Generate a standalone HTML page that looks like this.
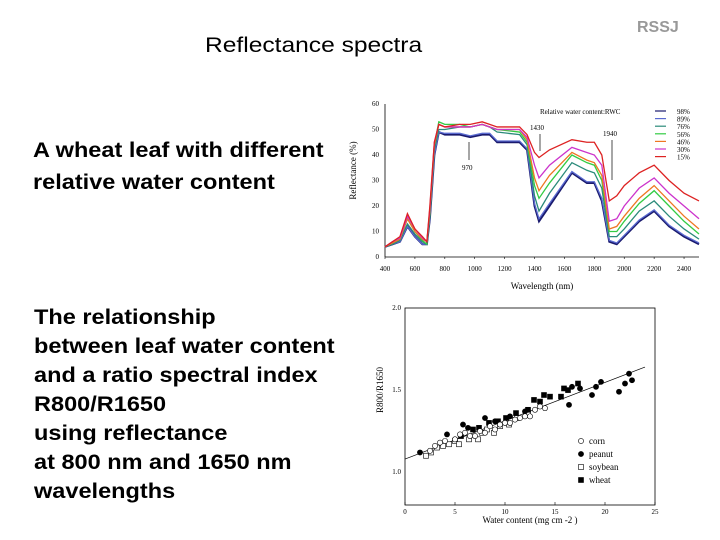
<!DOCTYPE html>
<html><head><meta charset="utf-8"><style>
body{margin:0;background:#fff;}
#slide{position:relative;width:720px;height:540px;overflow:hidden;font-family:"Liberation Sans",sans-serif;background:#fff;}
.t{position:absolute;color:#000;font-size:21px;line-height:29px;white-space:nowrap;transform-origin:0 0;}
.b{font-weight:bold;transform:scaleX(1.12);}
svg text{font-family:"Liberation Serif",serif;}
</style></head><body>
<div id="slide">
<div class="t" style="left:205px;top:31px;transform:scaleX(1.17);">Reflectance spectra</div>
<div class="t" style="left:637px;top:13px;font-size:16px;font-weight:bold;color:#999;">RSSJ</div>
<div class="t b" style="left:33px;top:135px;line-height:32px;">A wheat leaf with different<br>relative water content</div>
<div class="t b" style="left:34px;top:303px;">The relationship<br>between leaf water content<br>and a ratio spectral index<br>R800/R1650<br>using reflectance<br>at 800 nm and 1650 nm<br>wavelengths</div>
<svg id="top" width="720" height="540" style="position:absolute;left:0;top:0;"></svg>
</div>
<script>
// ---- Spectra data ----
const wl=[400,450,500,550,600,650,680,700,730,760,800,900,970,1050,1100,1150,1300,1350,1400,1430,1500,1650,1750,1800,1850,1900,1950,2000,2100,2200,2300,2400,2500];
const rwcLabels=["98%","89%","76%","56%","46%","30%","15%"];
const rwcColors=["#1a1a6e","#5a6ad0","#2a8a7a","#33cc44","#ee7722","#cc33cc","#dd2222"];
const r98=[4,5,6,12,8,5,5,15,40,49,48,48,47,48,48,45,45,42,20,14,20,33,29,29,22,6,5,8,14,18,12,8,5];
const r89=[4,5,6,12,8,5,5,15,40,49,48.5,48.5,47.5,48.5,48.5,45.5,45.5,42.5,21,15,21,33.5,29.5,29.5,23,6.5,5.5,8.5,14.5,18.5,12.5,8.5,5.5];
const r76=[4,5,6.5,13,9,6,5,16,42,50,50,51,51,52,51,49,48,44,24,18,25,37,34,33,27,8,8,11,18,22,16,11,7];
const r56=[4,5.5,7,15,10,6.5,5,17,44,53,52,52,51,52,51,50,49,45,28,23,29,40,37,36,30,10,10,14,21,26,20,14,9];
const r46=[4,5.5,7,15,10,7,6,18,44,52,51,51,51,52,51,50,50,46,31,26,32,41,38,37,32,11,12,16,23,28,22,16,11];
const r30=[4,6,7.5,16,11,7.5,6,19,45,52,51,51,51,52,51,50,50,47,36,31,36,43,41,40,36,14,15,20,27,31,25,20,15];
const r15=[4,6,8,17,11,8,6,20,45,52,51,52,52,53,52,51,51,48,41,39,42,46,45,45,40,22,24,28,33,36,30,25,22];
const series=[r98,r89,r76,r56,r46,r30,r15];
const xTicks=[400,600,800,1000,1200,1400,1600,1800,2000,2200,2400];
const yTicks=[0,10,20,30,40,50,60];
// ---- Scatter data ----
const cornX=[2.5,3,3.5,4,5,5.5,6,6.5,7,7.5,8,8.5,9,9.5,10,10.5,11,11.5,12,12.5,13,13.5,14];
const cornY=[1.13,1.16,1.18,1.19,1.20,1.23,1.24,1.22,1.22,1.25,1.24,1.28,1.26,1.29,1.30,1.30,1.32,1.33,1.34,1.34,1.38,1.40,1.39];
const peanutX=[1.5,4.2,5.8,6.3,8,9,10.5,12,16.4,16.7,17.5,18.7,19.1,19.6,21.4,22,22.4,22.7];
const peanutY=[1.12,1.23,1.29,1.27,1.33,1.31,1.34,1.37,1.41,1.52,1.51,1.47,1.52,1.55,1.49,1.54,1.60,1.56];
const soyX=[2.1,2.6,3.2,3.8,4.4,5,5.4,6.4,7.3,7.7,8.2,8.9,9.5,10.4,11.2,12.3];
const soyY=[1.10,1.12,1.15,1.16,1.17,1.19,1.17,1.20,1.20,1.24,1.26,1.24,1.28,1.29,1.33,1.36];
const wheatX=[5.6,6.8,7.4,8.4,9.3,10.1,11.1,12.3,12.9,13.5,13.9,14.5,15.6,15.9,16.3,17.3];
const wheatY=[1.22,1.26,1.27,1.30,1.31,1.33,1.36,1.38,1.44,1.43,1.47,1.46,1.46,1.51,1.50,1.54];
const sxTicks=[0,5,10,15,20,25];
const syTicks=[1.0,1.5,2.0];
const fitLine=[[0,1.08],[24,1.64]];

const svg=document.getElementById('top');
const NS='http://www.w3.org/2000/svg';
function mk(tag,attrs,parent){const e=document.createElementNS(NS,tag);for(const k in attrs)e.setAttribute(k,attrs[k]);(parent||svg).appendChild(e);return e;}
// Top chart axes
const L=385,R=699,T=104,B=257;
const xs=v=>L+(v-400)/(2500-400)*(R-L);
const ys=v=>B-v/60*(B-T);
const g1=mk('g',{});


mk('line',{x1:L,y1:B,x2:R,y2:B,stroke:'#000','stroke-width':0.8},g1);
mk('line',{x1:L,y1:T,x2:L,y2:B,stroke:'#000','stroke-width':0.8},g1);
xTicks.forEach(v=>{mk('line',{x1:xs(v),y1:B,x2:xs(v),y2:B+2,stroke:'#000','stroke-width':0.6},g1);
 const t=mk('text',{x:xs(v),y:B+14,'font-size':7,'text-anchor':'middle'},g1);t.textContent=v;
 });
yTicks.forEach(v=>{const t=mk('text',{x:L-6,y:ys(v)+2,'font-size':7,'text-anchor':'end'},g1);t.textContent=v;
 });
let t=mk('text',{x:(L+R)/2,y:B+32,'font-size':9,'text-anchor':'middle'},g1);t.textContent='Wavelength (nm)';

t=mk('text',{x:356,y:(T+B)/2-10,'font-size':9,'text-anchor':'middle',transform:`rotate(-90 356 ${(T+B)/2-10})`},g1);t.textContent='Reflectance (%)';

series.forEach((s,i)=>{const p=mk('polyline',{points:s.map((v,j)=>xs(wl[j])+','+ys(v)).join(' '),fill:'none',stroke:rwcColors[i],'stroke-width':i==0?2:1.3},g1);
 });
t=mk('text',{x:540,y:114,'font-size':7},g1);t.textContent='Relative water content:RWC';

rwcLabels.forEach((lab,i)=>{const y=113+i*7.6;
 const l=mk('line',{x1:655,y1:y-2,x2:666,y2:y-2,stroke:rwcColors[i],'stroke-width':1.2},g1);
 
 const tt=mk('text',{x:677,y:y+1,'font-size':7},g1);tt.textContent=lab;
 });
[['1430',530,130],['1940',603,136],['970',462,170]].forEach(a=>{const tt=mk('text',{x:a[1],y:a[2],'font-size':7},g1);tt.textContent=a[0];
 });
mk('line',{x1:540,y1:134,x2:540,y2:151,stroke:'#000','stroke-width':0.7},g1);
mk('line',{x1:612,y1:140,x2:612,y2:180,stroke:'#000','stroke-width':0.7},g1);
mk('line',{x1:469,y1:160,x2:469,y2:142,stroke:'#000','stroke-width':0.7},g1);
// Bottom chart
const L2=405,R2=655,T2=308,B2=505;
const sx=v=>L2+v/25*(R2-L2);
const sy=v=>B2-(v-0.8)/1.2*(B2-T2);
const g2=mk('g',{});


mk('rect',{x:L2,y:T2,width:R2-L2,height:B2-T2,fill:'none',stroke:'#000','stroke-width':0.8},g2);
sxTicks.forEach(v=>{mk('line',{x1:sx(v),y1:B2,x2:sx(v),y2:B2-3,stroke:'#000','stroke-width':0.6},g2);
 const tt=mk('text',{x:sx(v),y:B2+9,'font-size':7,'text-anchor':'middle'},g2);tt.textContent=v;
 });
syTicks.forEach(v=>{const tt=mk('text',{x:L2-4,y:sy(v)+2,'font-size':7,'text-anchor':'end'},g2);tt.textContent=v.toFixed(1);
 });
t=mk('text',{x:(L2+R2)/2,y:B2+18,'font-size':9,'text-anchor':'middle'},g2);t.textContent='Water content (mg cm -2 )';

t=mk('text',{x:383,y:390,'font-size':9,'text-anchor':'middle',transform:'rotate(-90 383 390)'},g2);t.textContent='R800/R1650';

const fl=mk('line',{x1:sx(fitLine[0][0]),y1:sy(fitLine[0][1]),x2:sx(fitLine[1][0]),y2:sy(fitLine[1][1]),stroke:'#000','stroke-width':0.7},g2);

function pts(X,Y,shape,fill,name){X.forEach((x,i)=>{let e;
 if(shape=='c')e=mk('circle',{cx:sx(x),cy:sy(Y[i]),r:2.6,fill:fill,stroke:'#000','stroke-width':0.6},g2);
 else e=mk('rect',{x:sx(x)-2.5,y:sy(Y[i])-2.5,width:5,height:5,fill:fill,stroke:'#000','stroke-width':0.6},g2);
 });}
pts(soyX,soyY,'s','#fff','point-soybean');
pts(wheatX,wheatY,'s','#000','point-wheat');
pts(peanutX,peanutY,'c','#000','point-peanut');
pts(cornX,cornY,'c','#fff','point-corn');
[['corn','c','#fff'],['peanut','c','#000'],['soybean','s','#fff'],['wheat','s','#000']].forEach((a,i)=>{const y=441+i*13;
 let e;if(a[1]=='c')e=mk('circle',{cx:581,cy:y,r:2.6,fill:a[2],stroke:'#000','stroke-width':0.6},g2);
 else e=mk('rect',{x:578.5,y:y-2.5,width:5,height:5,fill:a[2],stroke:'#000','stroke-width':0.6},g2);
 
 const tt=mk('text',{x:589,y:y+3,'font-size':9},g2);tt.textContent=a[0];
 });
</script>
</body></html>
